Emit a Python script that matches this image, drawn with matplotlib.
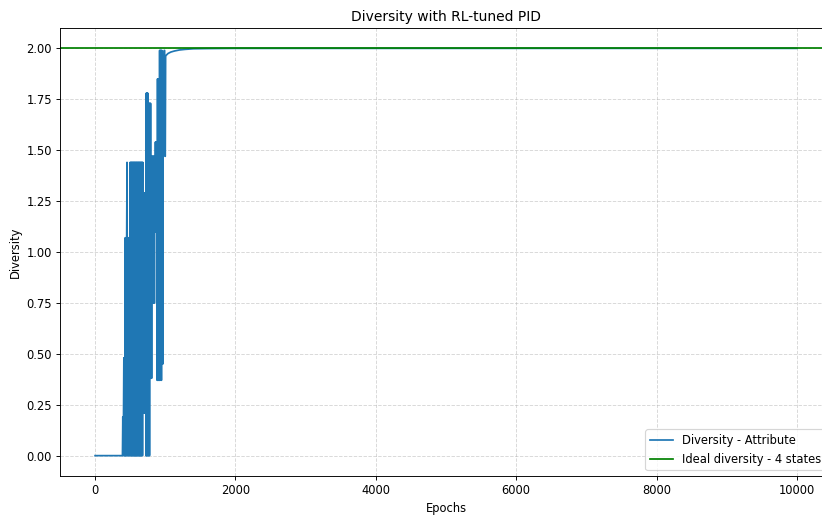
import numpy as np
import matplotlib
matplotlib.use("Agg")
import matplotlib.pyplot as plt


IDEAL_DIVERSITY = 2.0  # log2(4 states)

# flat start: diversity stays at zero
start_epochs = [0, 390]
start_values = [0.0, 0.0]

# turbulent phase, one reading every 5 epochs from epoch 395
burst_start = 395
burst_step = 5
burst_values = [
    0.19, 0.00, 0.19, 0.48, 0.00, 0.48, 0.00, 1.07, 0.00, 1.07,
    0.00, 1.07, 1.44, 0.00, 1.07, 0.00, 1.07, 0.00, 1.07, 0.00,
    1.07, 1.44, 0.00, 1.44, 0.00, 1.44, 0.00, 1.44, 0.00, 1.44,
    0.00, 1.44, 0.00, 1.44, 0.00, 1.44, 0.00, 1.44, 0.00, 1.44,
    0.00, 1.44, 0.00, 1.44, 0.00, 1.44, 0.00, 1.44, 0.00, 1.44,
    0.00, 1.44, 0.00, 1.44, 0.00, 1.44, 0.00, 1.44, 0.21, 1.29,
    0.21, 1.29, 0.21, 1.29, 0.21, 1.29, 0.00, 1.78, 0.00, 1.78,
    0.00, 1.78, 0.00, 1.73, 0.00, 1.73, 0.00, 1.73, 0.38, 1.73,
    0.38, 1.47, 0.38, 1.47, 0.75, 1.47, 0.75, 1.47, 0.75, 1.47,
    0.75, 1.47, 1.10, 1.54, 1.10, 1.54, 1.10, 1.54, 0.37, 1.85,
    0.37, 1.85, 0.37, 1.85, 0.37, 1.99, 0.37, 1.99, 0.45, 1.99,
    0.37, 1.99, 0.60, 1.88, 0.45, 1.88, 1.88, 1.88, 1.99, 1.99,
    1.47, 1.47, 1.96,
]

# convergence towards the ideal value
tail_epochs = [1010, 1040, 1080, 1130, 1200, 1280, 1400, 1600, 2000, 10000]
tail_values = [1.965, 1.975, 1.982, 1.987, 1.992, 1.995, 1.998, 1.999, 2.000, 2.000]

burst_epochs = burst_start + burst_step * np.arange(len(burst_values))
epochs = np.concatenate([start_epochs, burst_epochs, tail_epochs])
diversity = np.concatenate([start_values, burst_values, tail_values])

# original was drawn larger and scaled down, so render at a lower dpi
DPI = 83
fig = plt.figure(figsize=(822 / DPI, 515 / DPI), dpi=DPI)
# axes run past the right border, as in the cropped original
ax = fig.add_axes([60 / 822, 39 / 515, 772 / 822, 448 / 515])

ax.plot(epochs, diversity, color="#1f77b4", linewidth=1.5, label="Diversity - Attribute")
ax.axhline(IDEAL_DIVERSITY, color="green", linewidth=1.5, label="Ideal diversity - 4 states")

ax.set_title("Diversity with RL-tuned PID")
ax.set_xlabel("Epochs")
ax.set_ylabel("Diversity")
ax.grid(True, linestyle="--", alpha=0.5)
ax.legend(loc="lower right")

fig.savefig("out.png", dpi=DPI)
plt.close(fig)
